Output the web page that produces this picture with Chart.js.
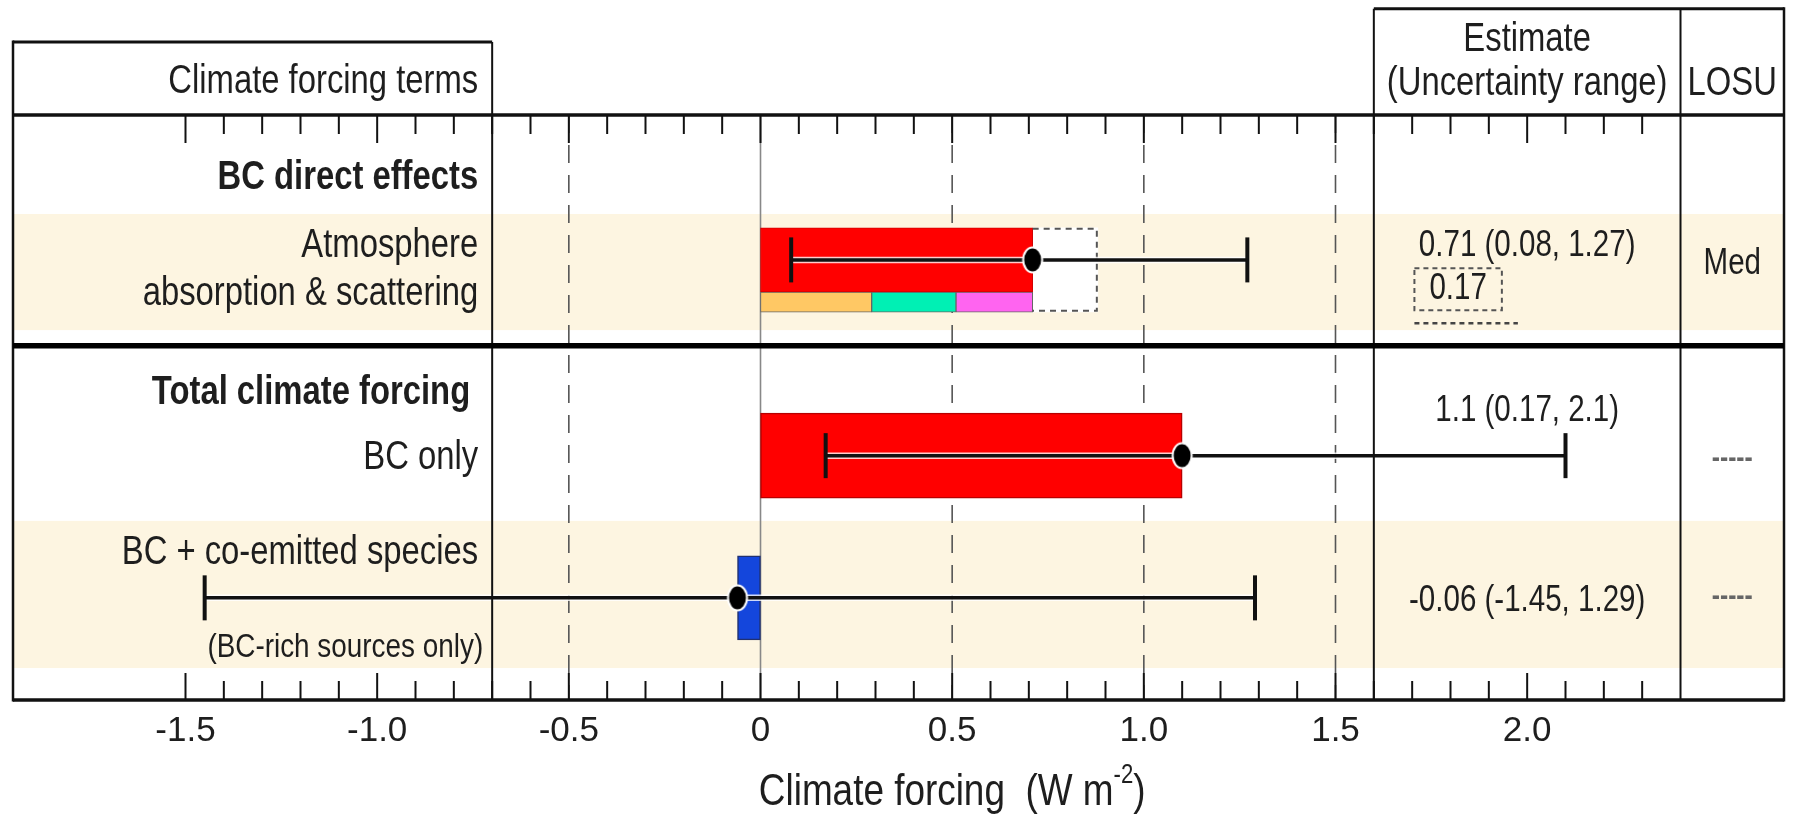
<!DOCTYPE html>
<html lang="en">
<head>
<meta charset="UTF-8">
<title>BC climate forcing</title>
<style>
  html, body { margin: 0; padding: 0; background: #fff; }
  canvas { display: block; }
</style>
<script src="https://cdn.jsdelivr.net/npm/chart.js"></script>
</head>
<body>
<canvas id="forcingChart" width="1797" height="815"></canvas>
<script>
// values, W m-2
const terms = ['Atmosphere absorption & scattering', 'BC only', 'BC + co-emitted species'];
const best = [0.71, 1.1, -0.06];
const low = [0.08, 0.17, -1.45];
const high = [1.27, 2.1, 1.29];
const directParts = [0.29, 0.22, 0.20];   // orange / teal / magenta split of 0.71
const dottedExtra = 0.17;                 // dotted box beyond the red bar
const estimateText = ['0.71 (0.08, 1.27)', '1.1 (0.17, 2.1)', '-0.06 (-1.45, 1.29)'];
const losuText = ['Med', '-----', '-----'];
const tickVals = [-1.5, -1.0, -0.5, 0, 0.5, 1.0, 1.5, 2.0];
const tickLabels = ['-1.5', '-1.0', '-0.5', '0', '0.5', '1.0', '1.5', '2.0'];
const dashedAt = [-0.5, 0.5, 1.0, 1.5];

// layout: columns in x units, rows in units of the hidden y scale (0 = header line, 13 = axis)
const X_MIN = -1.95, X_MAX = 2.67;
const COL_LABEL = -0.7, COL_EST = 1.6, COL_LOSU = 2.4;
const rowY = [3.22, 7.57, 10.73];
const STRIP_Y = 4.16, DOTTED_Y = 3.44;
const bands = [[2.2, 4.78], [9.02, 12.29]];
const SEP_Y = 5.13;

const INK = '#1e1e1e';
const BEIGE = '#fdf5e1';

function hasFace(name) {
  const c = document.createElement('canvas').getContext('2d');
  c.font = '40px monospace';
  const w0 = c.measureText('Climate forcing terms').width;
  c.font = '40px "' + name + '", monospace';
  return c.measureText('Climate forcing terms').width !== w0;
}
const NARROW = hasFace('Liberation Sans Narrow');
const FAM = NARROW ? '"Liberation Sans Narrow", sans-serif' : '"Liberation Sans", Arial, sans-serif';
const SQ = NARROW ? 1 : 0.82;

function txt(ctx, s, x, y, size, align, bold, color) {
  ctx.save();
  ctx.font = (bold ? 'bold ' : '') + size + 'px ' + FAM;
  ctx.fillStyle = color || INK;
  ctx.textBaseline = 'middle';
  ctx.textAlign = align || 'left';
  ctx.translate(x, y);
  ctx.scale(SQ, 1);
  ctx.fillText(s, 0, 0);
  ctx.restore();
}
function txtWidth(ctx, s, size, bold) {
  ctx.save();
  ctx.font = (bold ? 'bold ' : '') + size + 'px ' + FAM;
  const w = ctx.measureText(s).width * SQ;
  ctx.restore();
  return w;
}
function line(ctx, x1, y1, x2, y2, w, color, dash) {
  ctx.save();
  ctx.beginPath();
  ctx.lineWidth = w;
  ctx.strokeStyle = color || '#000';
  ctx.setLineDash(dash || []);
  ctx.moveTo(x1, y1);
  ctx.lineTo(x2, y2);
  ctx.stroke();
  ctx.restore();
}

// black dot with white rim, a bit taller than wide like the original
const dot = document.createElement('canvas');
dot.width = 24; dot.height = 30;
(function () {
  const c = dot.getContext('2d');
  c.beginPath();
  c.ellipse(12, 15, 9.5, 12.5, 0, 0, Math.PI * 2);
  c.fillStyle = '#000';
  c.fill();
  c.lineWidth = 2;
  c.strokeStyle = '#fff';
  c.stroke();
})();

let acc = 0;
const stripRanges = directParts.map(v => { const r = [acc, acc + v]; acc += v; return r; });
const stripColors = ['#ffc864', '#00f0b4', '#ff64f0'];

const tablePlugin = {
  id: 'table',
  beforeDatasetsDraw(chart) {
    const {ctx, chartArea: a, scales: {x, y}} = chart;
    ctx.save();
    ctx.fillStyle = BEIGE;
    bands.forEach(([t, b]) => {
      const yt = y.getPixelForValue(t), yb = y.getPixelForValue(b);
      ctx.fillRect(a.left, yt, a.right - a.left, yb - yt);
    });
    ctx.restore();
    dashedAt.forEach(v => {
      const px = x.getPixelForValue(v);
      line(ctx, px, a.top, px, a.bottom, 1.6, '#555', [18, 12]);
    });
    const z = x.getPixelForValue(0);
    line(ctx, z, a.top, z, a.bottom, 1.6, '#888');
  },
  afterDatasetDraw(chart, args) {
    if (args.index !== 1) return;
    const {ctx, scales: {x, y}} = chart;
    // dashed outline on the open part of the atmosphere bar
    const el = chart.getDatasetMeta(7).data[0];
    const p = el.getProps(['x', 'y', 'base', 'height'], true);
    const t = p.y - p.height / 2, b = p.y + p.height / 2;
    ctx.save();
    ctx.beginPath();
    ctx.setLineDash([6, 5]);
    ctx.lineWidth = 2;
    ctx.strokeStyle = '#555';
    ctx.moveTo(p.base, t + 1); ctx.lineTo(p.x - 1, t + 1); ctx.lineTo(p.x - 1, b - 1); ctx.lineTo(p.base, b - 1);
    ctx.stroke();
    ctx.restore();
    // whiskers
    best.forEach((v, i) => {
      const py = y.getPixelForValue(rowY[i]);
      const x1 = x.getPixelForValue(low[i]), x2 = x.getPixelForValue(high[i]);
      line(ctx, x1, py, x2, py, 6.5, 'rgba(255,255,255,0.8)');
      line(ctx, x1, py, x2, py, 3.5, '#111');
      line(ctx, x1, py - 22.5, x1, py + 22.5, 4, '#111');
      line(ctx, x2, py - 22.5, x2, py + 22.5, 4, '#111');
    });
  },
  afterDraw(chart) {
    const {ctx, scales: {x, y}} = chart;
    const xl = x.getPixelForValue(X_MIN), xr = x.getPixelForValue(X_MAX);
    const xc = x.getPixelForValue(COL_LABEL), xe = x.getPixelForValue(COL_EST), xs = x.getPixelForValue(COL_LOSU);
    const yTop = y.getPixelForValue(0), yBot = y.getPixelForValue(13);
    const yHeadL = y.getPixelForValue(-1.62), yHeadE = y.getPixelForValue(-2.36);

    // ticks, inward from top and bottom
    for (let k = -15; k <= 23; k++) {
      const px = x.getPixelForValue(k / 10);
      const major = k % 5 === 0;
      line(ctx, px, yTop, px, yTop + (major ? 28 : 19), 2, '#111');
      line(ctx, px, yBot, px, yBot - (major ? 27 : 19), 2, '#111');
    }

    // frame and column rules
    line(ctx, xl, yHeadL, xc, yHeadL, 3, '#111');
    line(ctx, xe, yHeadE, xr, yHeadE, 3, '#111');
    line(ctx, xl, yHeadL - 1.5, xl, yBot + 1.5, 2.5, '#111');
    line(ctx, xr, yHeadE - 1.5, xr, yBot + 1.5, 2.5, '#111');
    line(ctx, xc, yHeadL, xc, yBot, 2, '#111');
    line(ctx, xe, yHeadE, xe, yBot, 2, '#111');
    line(ctx, xs, yHeadE, xs, yBot, 2, '#111');
    line(ctx, xl, yTop, xr, yTop, 3.5, '#111');
    line(ctx, xl, y.getPixelForValue(SEP_Y), xr, y.getPixelForValue(SEP_Y), 5.5, '#000');
    line(ctx, xl, yBot, xr, yBot, 3.5, '#111');

    // header
    const lr = xc - 14;
    const estC = (xe + xs) / 2, losC = (xs + xr) / 2;
    txt(ctx, 'Climate forcing terms', lr, y.getPixelForValue(-0.74), 40, 'right');
    txt(ctx, 'Estimate', estC, y.getPixelForValue(-1.66), 40, 'center');
    txt(ctx, '(Uncertainty range)', estC, y.getPixelForValue(-0.7), 40, 'center');
    txt(ctx, 'LOSU', losC, y.getPixelForValue(-0.7), 40, 'center');

    // row labels
    txt(ctx, 'BC direct effects', lr, y.getPixelForValue(1.4), 40, 'right', true);
    txt(ctx, 'Atmosphere', lr, y.getPixelForValue(2.9), 40, 'right');
    txt(ctx, 'absorption & scattering', lr, y.getPixelForValue(3.98), 40, 'right');
    txt(ctx, 'Total climate forcing', lr - 8, y.getPixelForValue(6.18), 40, 'right', true);
    txt(ctx, terms[1], lr, y.getPixelForValue(7.62), 40, 'right');
    txt(ctx, terms[2], lr, y.getPixelForValue(9.74), 40, 'right');
    txt(ctx, '(BC-rich sources only)', lr + 5, y.getPixelForValue(11.83), 34, 'right');

    // estimates and LOSU
    txt(ctx, estimateText[0], estC, y.getPixelForValue(2.92), 36, 'center');
    txt(ctx, estimateText[1], estC, y.getPixelForValue(6.58), 36, 'center');
    txt(ctx, estimateText[2], estC, y.getPixelForValue(10.8), 36, 'center');
    const ex = x.getPixelForValue(1.745), ey = y.getPixelForValue(3.87);
    const ew = txtWidth(ctx, String(dottedExtra), 36);
    txt(ctx, String(dottedExtra), ex, ey, 36, 'left');
    ctx.save();
    ctx.setLineDash([5, 4]);
    ctx.lineWidth = 2;
    ctx.strokeStyle = '#555';
    ctx.strokeRect(ex - 15, ey - 21, ew + 30, 42);
    ctx.restore();
    line(ctx, ex - 15, ey + 34, ex + ew + 31, ey + 34, 2.5, '#444', [5, 4]);
    txt(ctx, losuText[0], losC, y.getPixelForValue(3.31), 36, 'center');
    txt(ctx, losuText[1], losC, y.getPixelForValue(7.64), 30, 'center', true, '#666');
    txt(ctx, losuText[2], losC, y.getPixelForValue(10.71), 30, 'center', true, '#666');

    // axis title with superscript
    const ty = y.getPixelForValue(15.05);
    const pa = 'Climate forcing  (W m', ps = '-2', pb = ')';
    const wa = txtWidth(ctx, pa, 45), ws = txtWidth(ctx, ps, 27), wb = txtWidth(ctx, pb, 45);
    let tx = x.getPixelForValue(0.5) - (wa + ws + wb) / 2;
    txt(ctx, pa, tx, ty, 45, 'left'); tx += wa;
    txt(ctx, ps, tx, ty - 17, 27, 'left'); tx += ws;
    txt(ctx, pb, tx, ty, 45, 'left');
  }
};

const barBase = { type: 'bar', grouped: false, borderSkipped: false };

new Chart(document.getElementById('forcingChart').getContext('2d'), {
  type: 'bar',
  data: {
    datasets: [
      { type: 'scatter', data: best.map((v, i) => ({ x: v, y: rowY[i] })),
        pointStyle: dot, pointRadius: 12 },
      { ...barBase, data: [{ x: [0, best[0]], y: rowY[0] }], barThickness: 64,
        backgroundColor: '#ff0000', borderColor: '#d40000', borderWidth: 1 },
      { ...barBase, data: [{ x: [0, best[1]], y: rowY[1] }], barThickness: 85,
        backgroundColor: '#ff0000', borderColor: '#b80000', borderWidth: 1.5 },
      { ...barBase, data: [{ x: [best[2], 0], y: rowY[2] }], barThickness: 84,
        backgroundColor: '#1446dc', borderColor: '#203070', borderWidth: 1.5 },
      ...stripRanges.map((r, i) => ({ ...barBase, data: [{ x: r, y: STRIP_Y }], barThickness: 20,
        backgroundColor: stripColors[i], borderColor: '#666', borderWidth: 1 })),
      { ...barBase, data: [{ x: [best[0], best[0] + dottedExtra], y: DOTTED_Y }], barThickness: 84,
        backgroundColor: '#ffffff', borderWidth: 0 }
    ]
  },
  options: {
    indexAxis: 'y',
    responsive: false,
    animation: false,
    devicePixelRatio: 1,
    layout: { padding: { left: 13, right: 9, top: 115, bottom: 0 } },
    plugins: { legend: { display: false }, tooltip: { enabled: false } },
    scales: {
      x: {
        type: 'linear',
        min: X_MIN,
        max: X_MAX,
        offset: false,
        grid: { display: false, drawTicks: false },
        border: { display: false },
        afterBuildTicks: s => { s.ticks = tickVals.map(v => ({ value: v })); },
        afterFit: s => { s.height = 115; },
        ticks: {
          autoSkip: false,
          maxRotation: 0,
          padding: 10,
          color: INK,
          font: { family: FAM, size: NARROW ? 40 : 35 },
          callback: (v, i) => tickLabels[i]
        }
      },
      y: { type: 'linear', min: 0, max: 13, reverse: true, offset: false, display: false }
    }
  },
  plugins: [tablePlugin]
});
</script>
</body>
</html>
